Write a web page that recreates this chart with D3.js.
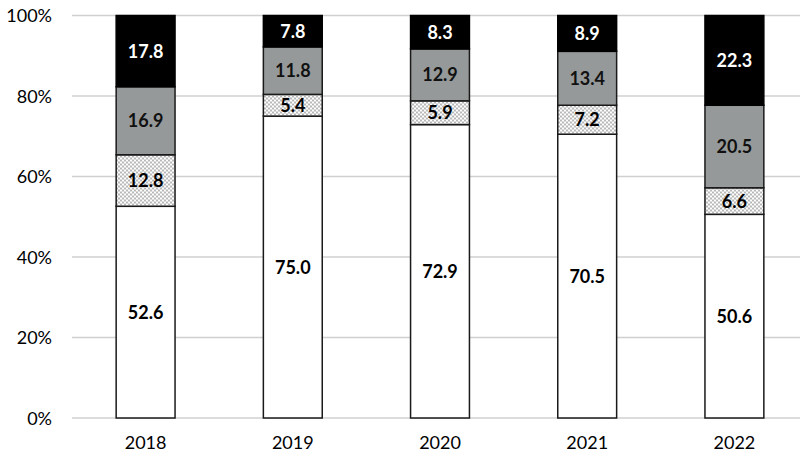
<!DOCTYPE html>
<html>
<head>
<meta charset="utf-8">
<script src="https://cdn.jsdelivr.net/npm/d3@7"></script>
<style>
  body { margin: 0; background: #fff; }
  text { font-family: Lato, "Open Sans", sans-serif; }
</style>
</head>
<body>
<div id="chart-area"></div>
<script>
const years = ["2018", "2019", "2020", "2021", "2022"]
const seriesKeys = ["white", "dotted", "gray", "black"]
const whiteVals = [52.6, 75.0, 72.9, 70.5, 50.6]
const dottedVals = [12.8, 5.4, 5.9, 7.2, 6.6]
const grayVals = [16.9, 11.8, 12.9, 13.4, 20.5]
const blackVals = [17.8, 7.8, 8.3, 8.9, 22.3]
const yTicks = [0, 20, 40, 60, 80, 100]

const W = 800, H = 458
const MARGIN = {LEFT: 72, RIGHT: 0, TOP: 15.5, BOTTOM: 40}
const HEIGHT = H - MARGIN.TOP - MARGIN.BOTTOM

const svg = d3.select("#chart-area").append("svg")
  .attr("width", W)
  .attr("height", H)

// checker pattern for the dotted segment
const pat = svg.append("defs").append("pattern")
  .attr("id", "dots")
  .attr("width", 4).attr("height", 4)
  .attr("patternUnits", "userSpaceOnUse")
pat.append("rect").attr("width", 4).attr("height", 4).attr("fill", "#fff")
pat.append("rect").attr("width", 2).attr("height", 2).attr("fill", "#b8b8b8")
pat.append("rect").attr("x", 2).attr("y", 2).attr("width", 2).attr("height", 2).attr("fill", "#b8b8b8")

const g = svg.append("g")
  .attr("transform", `translate(${MARGIN.LEFT}, ${MARGIN.TOP})`)

const table = years.map((yr, i) => ({
  year: yr,
  white: whiteVals[i],
  dotted: dottedVals[i],
  gray: grayVals[i],
  black: blackVals[i]
}))

const x = d3.scaleBand()
  .domain(years)
  .range([0, 736])
  .paddingInner(0.6)
  .paddingOuter(0.3)

const y = d3.scaleLinear()
  .domain([0, 100])
  .range([HEIGHT, 0])

// gridlines
g.selectAll(".grid")
  .data(yTicks)
  .enter().append("line")
  .attr("class", "grid")
  .attr("x1", 0)
  .attr("x2", W - MARGIN.LEFT)
  .attr("y1", d => y(d))
  .attr("y2", d => y(d))
  .attr("stroke", "#d0d0d0")
  .attr("stroke-width", 1.3)

// Y labels
const yAxisCall = d3.axisLeft(y)
  .tickValues(yTicks)
  .tickFormat(d => d + "%")
  .tickSize(0)
  .tickPadding(20)
const yAxis = g.append("g").call(yAxisCall)
yAxis.select(".domain").remove()
yAxis.selectAll("text")
  .attr("font-size", "18px")
  .attr("fill", "#000")
  .attr("dy", "0.35em")

// X labels
const xAxisCall = d3.axisBottom(x).tickSize(0).tickPadding(18)
const xAxis = g.append("g")
  .attr("transform", `translate(0, ${HEIGHT})`)
  .call(xAxisCall)
xAxis.select(".domain").remove()
xAxis.selectAll("text")
  .attr("font-size", "18px")
  .attr("fill", "#000")

const stacked = d3.stack().keys(seriesKeys)(table)

const fills = {white: "#ffffff", dotted: "url(#dots)", gray: "#969999", black: "#000000"}
const textFill = {white: "#000", dotted: "#000", gray: "#111", black: "#fff"}

const layers = g.selectAll(".layer")
  .data(stacked)
  .enter().append("g")
  .attr("class", "layer")

layers.selectAll("rect")
  .data(d => d.map(p => ({key: d.key, p: p})))
  .enter().append("rect")
  .attr("x", d => x(d.p.data.year))
  .attr("width", x.bandwidth())
  .attr("y", d => y(Math.min(d.p[1], 100)))
  .attr("height", d => y(d.p[0]) - y(Math.min(d.p[1], 100)))
  .attr("fill", d => fills[d.key])
  .attr("stroke", d => d.key === "black" ? "#000" : "#1a1a1a")
  .attr("stroke-width", 1.5)

layers.selectAll("text")
  .data(d => d.map(p => ({key: d.key, p: p})))
  .enter().append("text")
  .attr("x", d => x(d.p.data.year) + x.bandwidth() / 2)
  .attr("y", d => (y(d.p[0]) + y(Math.min(d.p[1], 100))) / 2)
  .attr("dy", "0.36em")
  .attr("text-anchor", "middle")
  .attr("font-size", "18px")
  .attr("font-weight", "bold")
  .attr("fill", d => textFill[d.key])
  .text(d => d.p.data[d.key].toFixed(1))
</script>
</body>
</html>
